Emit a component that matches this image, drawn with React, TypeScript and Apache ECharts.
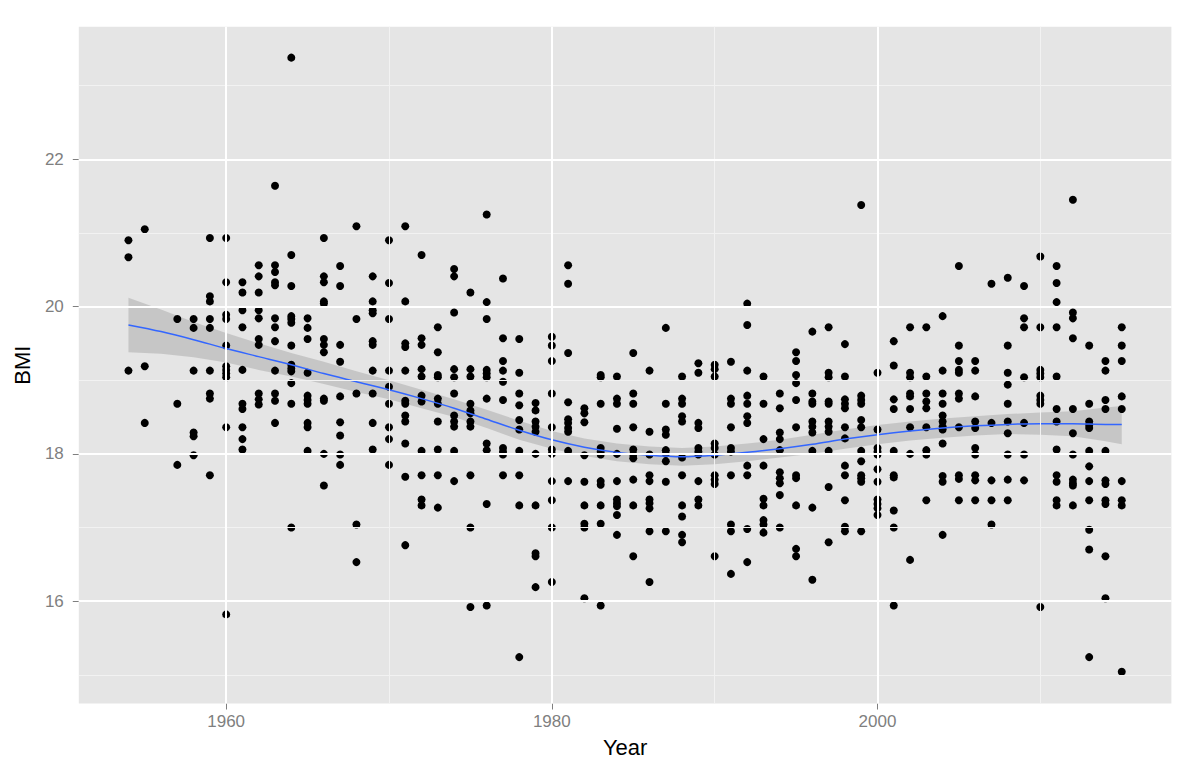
import React, { useEffect, useRef } from "react";
import * as echarts from "echarts";

// Observation years (no observations in 1956)
const years: number[] = [
  1954, 1955, 1957, 1958, 1959, 1960, 1961, 1962, 1963, 1964, 1965, 1966, 1967, 1968, 1969,
  1970, 1971, 1972, 1973, 1974, 1975, 1976, 1977, 1978, 1979, 1980, 1981, 1982, 1983, 1984,
  1985, 1986, 1987, 1988, 1989, 1990, 1991, 1992, 1993, 1994, 1995, 1996, 1997, 1998, 1999,
  2000, 2001, 2002, 2003, 2004, 2005, 2006, 2007, 2008, 2009, 2010, 2011, 2012, 2013, 2014, 2015,
];

// BMI values per year (same order as years)
const bmiByYear: number[][] = [
  [20.90, 20.67, 19.13],
  [21.05, 19.19, 18.42],
  [19.83, 18.68, 17.85],
  [19.83, 19.71, 19.13, 18.29, 18.24, 17.98],
  [20.93, 20.14, 20.07, 19.83, 19.71, 19.13, 18.82, 18.75, 17.71],
  [20.93, 20.33, 19.89, 19.83, 19.47, 19.19, 19.14, 19.09, 19.04, 18.36, 15.82],
  [20.33, 20.19, 19.95, 19.72, 19.14, 18.68, 18.61, 18.36, 18.20, 18.06],
  [20.56, 20.41, 20.19, 19.95, 19.84, 19.56, 19.48, 18.82, 18.74, 18.67],
  [21.64, 20.56, 20.47, 20.33, 20.29, 19.84, 19.72, 19.53, 19.13, 18.82, 18.72, 18.42],
  [23.38, 20.70, 20.28, 19.87, 19.83, 19.78, 19.47, 19.21, 19.16, 19.12, 18.96, 18.68, 17.00],
  [19.84, 19.71, 19.56, 19.10, 18.79, 18.73, 18.68, 18.42, 18.36, 18.04],
  [20.93, 20.41, 20.33, 20.07, 20.04, 19.56, 19.48, 19.38, 18.75, 18.72, 18.00, 17.57],
  [20.55, 20.28, 19.48, 19.25, 18.78, 18.43, 18.25, 17.99, 17.85],
  [21.09, 19.83, 18.82, 17.04, 16.53],
  [20.41, 20.07, 19.95, 19.91, 19.53, 19.48, 19.13, 18.82, 18.42, 18.06],
  [20.90, 20.32, 19.83, 19.13, 18.91, 18.68, 18.36, 18.20, 17.85],
  [21.09, 20.07, 19.50, 19.45, 19.13, 18.72, 18.68, 18.52, 18.44, 18.14, 17.69, 16.76],
  [20.70, 19.57, 19.48, 19.15, 19.05, 18.79, 18.71, 18.04, 17.71, 17.38, 17.30],
  [19.72, 19.38, 19.07, 19.04, 18.75, 18.68, 18.44, 18.06, 17.71, 17.27],
  [20.51, 20.41, 19.92, 19.15, 19.04, 18.82, 18.52, 18.44, 18.37, 18.04, 17.63],
  [20.19, 19.15, 19.05, 18.68, 18.59, 18.55, 18.44, 18.37, 17.71, 17.00, 15.92],
  [21.25, 20.06, 19.83, 19.14, 19.09, 19.04, 18.75, 18.14, 18.05, 17.32, 15.94],
  [20.38, 19.57, 19.26, 19.13, 18.98, 18.73, 18.08, 18.03, 17.99, 17.71],
  [19.56, 19.10, 18.82, 18.66, 18.46, 18.33, 18.04, 17.71, 17.30, 15.24],
  [18.69, 18.59, 18.44, 18.37, 18.30, 18.00, 17.30, 16.65, 16.61, 16.19],
  [19.59, 19.47, 19.26, 18.82, 18.36, 18.06, 18.00, 17.63, 17.37, 17.00, 16.26],
  [20.56, 20.31, 19.37, 18.70, 18.47, 18.42, 18.35, 18.30, 18.04, 17.63],
  [18.62, 18.55, 18.43, 17.98, 17.62, 17.30, 17.05, 17.00, 16.04],
  [19.07, 19.04, 18.68, 18.08, 18.03, 17.99, 17.63, 17.58, 17.30, 17.05, 15.94],
  [19.05, 18.75, 18.68, 18.34, 18.00, 17.63, 17.38, 17.33, 17.29, 17.17, 16.90],
  [19.37, 18.82, 18.68, 18.36, 18.06, 17.99, 17.94, 17.65, 17.30, 16.61],
  [19.13, 18.30, 17.99, 17.71, 17.63, 17.38, 17.33, 17.26, 16.95, 16.26],
  [19.71, 18.68, 18.33, 18.26, 18.05, 18.00, 17.90, 17.62, 16.95],
  [19.05, 18.75, 18.68, 18.51, 18.44, 17.95, 17.71, 17.30, 17.15, 16.90, 16.80],
  [19.23, 19.10, 18.42, 18.35, 18.08, 18.03, 17.99, 17.63, 17.38, 17.30],
  [19.21, 19.15, 19.05, 18.14, 18.08, 17.99, 17.71, 17.65, 17.59, 16.61],
  [19.25, 18.75, 18.68, 18.36, 18.08, 18.03, 17.71, 17.04, 16.95, 16.37],
  [20.04, 19.75, 19.13, 18.79, 18.68, 18.51, 18.42, 17.84, 17.71, 16.98, 16.53],
  [19.05, 18.68, 18.20, 17.84, 17.39, 17.30, 17.10, 17.04, 16.93],
  [18.82, 18.62, 18.29, 18.20, 18.05, 17.75, 17.67, 17.60, 17.44, 17.00],
  [19.38, 19.26, 19.07, 18.96, 18.73, 18.36, 17.71, 17.67, 17.30, 16.71, 16.61],
  [19.66, 18.82, 18.71, 18.68, 18.44, 18.37, 18.29, 18.04, 17.27, 16.29],
  [19.72, 19.10, 19.04, 18.71, 18.68, 18.44, 18.37, 18.30, 18.04, 17.55, 16.80],
  [19.49, 19.05, 18.74, 18.68, 18.62, 18.36, 18.21, 17.84, 17.71, 17.37, 17.01, 16.95],
  [21.38, 18.79, 18.73, 18.68, 18.46, 18.36, 18.04, 17.90, 17.71, 17.67, 17.62, 16.95],
  [19.10, 18.33, 18.08, 18.03, 17.99, 17.79, 17.62, 17.38, 17.32, 17.26, 17.17],
  [19.53, 19.20, 18.74, 18.61, 18.04, 17.71, 17.68, 17.23, 17.00, 15.94],
  [19.72, 19.10, 19.04, 18.82, 18.78, 18.61, 18.36, 18.00, 16.56],
  [19.72, 19.05, 18.82, 18.71, 18.62, 18.36, 18.05, 17.99, 17.37],
  [19.87, 19.13, 18.82, 18.68, 18.52, 18.44, 18.37, 18.33, 18.14, 17.70, 17.62, 16.90],
  [20.55, 19.47, 19.26, 19.14, 19.10, 18.82, 18.75, 18.36, 17.71, 17.66, 17.37],
  [19.26, 19.13, 18.78, 18.44, 18.35, 18.08, 17.99, 17.71, 17.64, 17.37],
  [20.31, 18.42, 17.64, 17.37, 17.04],
  [20.39, 19.47, 19.10, 18.94, 18.68, 18.44, 18.28, 17.99, 17.65, 17.37],
  [20.28, 19.84, 19.72, 19.04, 18.42, 17.99, 17.64],
  [20.68, 19.72, 19.14, 19.09, 19.04, 18.79, 18.73, 18.68, 15.92],
  [20.55, 20.32, 20.06, 19.72, 19.05, 18.61, 18.44, 18.06, 17.71, 17.62, 17.37, 17.30],
  [21.45, 19.92, 19.84, 19.57, 18.61, 18.28, 17.99, 17.65, 17.60, 17.57, 17.30],
  [19.47, 18.68, 18.44, 18.39, 18.35, 18.04, 17.83, 17.63, 17.37, 16.97, 16.70, 15.24],
  [19.26, 19.13, 18.73, 18.61, 18.04, 17.64, 17.59, 17.37, 17.32, 16.61, 16.04],
  [19.72, 19.47, 19.26, 18.78, 18.61, 17.63, 17.37, 17.30, 15.04],
];

// Loess smooth and its confidence band
const smoothYears: number[] = [
  1954, 1956, 1958, 1960, 1962, 1964, 1966, 1968, 1970, 1972, 1974, 1976, 1978, 1980, 1982, 1984,
  1986, 1988, 1990, 1992, 1994, 1996, 1998, 2000, 2002, 2004, 2006, 2008, 2010, 2012, 2014, 2015,
];
const smoothFit: number[] = [
  19.75, 19.66, 19.55, 19.43, 19.32, 19.21, 19.09, 18.98, 18.87, 18.75, 18.62, 18.47, 18.32, 18.19, 18.09, 18.02,
  17.98, 17.96, 17.98, 18.02, 18.07, 18.13, 18.20, 18.26, 18.31, 18.35, 18.38, 18.40, 18.41, 18.41, 18.40, 18.40,
];
const smoothUpper: number[] = [
  20.12, 19.96, 19.79, 19.64, 19.50, 19.37, 19.25, 19.12, 19.00, 18.87, 18.74, 18.60, 18.45, 18.31, 18.21, 18.14,
  18.10, 18.08, 18.10, 18.14, 18.19, 18.26, 18.33, 18.39, 18.44, 18.48, 18.51, 18.54, 18.56, 18.58, 18.63, 18.65,
];
const smoothLower: number[] = [
  19.38, 19.36, 19.31, 19.24, 19.14, 19.05, 18.95, 18.84, 18.74, 18.62, 18.50, 18.35, 18.19, 18.07, 17.97, 17.90,
  17.86, 17.84, 17.86, 17.90, 17.95, 18.00, 18.07, 18.13, 18.18, 18.22, 18.25, 18.27, 18.26, 18.24, 18.17, 18.13,
];

// Axis ticks and grid positions
const xTickLabels: number[] = [1960, 1980, 2000];
const xMinorGrid: number[] = [1970, 1990, 2010];
const yTickLabels: number[] = [16, 18, 20, 22];
const yMinorGrid: number[] = [15, 17, 19, 21, 23];

export default function App() {
  const ref = useRef<HTMLDivElement>(null);

  useEffect(() => {
    if (!ref.current) return;
    const chart = echarts.init(ref.current, null, { renderer: "svg" });
    const font = "'Liberation Sans', Arial, sans-serif";

    const points: number[][] = [];
    years.forEach((yr, i) => {
      bmiByYear[i].forEach((v) => points.push([yr, v]));
    });
    const fitData = smoothYears.map((yr, i) => [yr, smoothFit[i]]);

    const major = { color: "#ffffff", width: 2, type: "solid" as const };
    const minor = { color: "#f2f2f2", width: 1, type: "solid" as const };
    const gridLines = [
      ...yMinorGrid.map((v) => ({ yAxis: v, lineStyle: minor })),
      ...xMinorGrid.map((v) => ({ xAxis: v, lineStyle: minor })),
      ...yTickLabels.map((v) => ({ yAxis: v, lineStyle: major })),
      ...xTickLabels.map((v) => ({ xAxis: v, lineStyle: major })),
    ];

    chart.setOption({
      animation: false,
      backgroundColor: "#ffffff",
      grid: {
        left: 78.8,
        right: 28.6,
        top: 26.7,
        bottom: 72.5,
        show: true,
        backgroundColor: "#e5e5e5",
        borderWidth: 0,
        containLabel: false,
        outerBoundsMode: "none",
      },
      xAxis: {
        type: "value",
        min: 1950.95,
        max: 2018.05,
        splitLine: { show: false },
        axisLine: { show: false },
        axisTick: {
          show: true,
          customValues: xTickLabels,
          length: 6,
          lineStyle: { color: "#7f7f7f", width: 1 },
        },
        axisLabel: {
          customValues: xTickLabels,
          formatter: (v: number) => String(v),
          color: "#7f7f7f",
          fontSize: 17,
          fontFamily: font,
          margin: 9,
        },
        name: "Year",
        nameLocation: "middle",
        nameGap: 33,
        nameTextStyle: { color: "#000000", fontSize: 22, fontFamily: font },
      },
      yAxis: {
        type: "value",
        min: 14.61,
        max: 23.8,
        splitLine: { show: false },
        axisLine: { show: false },
        axisTick: {
          show: true,
          customValues: yTickLabels,
          length: 6,
          lineStyle: { color: "#7f7f7f", width: 1 },
        },
        axisLabel: {
          customValues: yTickLabels,
          formatter: (v: number) => String(v),
          color: "#7f7f7f",
          fontSize: 17,
          fontFamily: font,
          margin: 15,
        },
        name: "BMI",
        nameLocation: "middle",
        nameGap: 38,
        nameRotate: 90,
        nameTextStyle: { color: "#000000", fontSize: 22, fontFamily: font },
      },
      series: [
        {
          type: "line",
          z: 0,
          silent: true,
          data: fitData,
          showSymbol: false,
          lineStyle: { opacity: 0 },
          markLine: {
            silent: true,
            symbol: ["none", "none"],
            label: { show: false },
            animation: false,
            data: gridLines,
          },
        },
        {
          type: "custom",
          z: 1,
          silent: true,
          data: [[smoothYears[0], smoothFit[0]]],
          renderItem: (params: any, api: any) => {
            const pts: number[][] = [];
            for (let i = 0; i < smoothYears.length; i++) {
              pts.push(api.coord([smoothYears[i], smoothUpper[i]]));
            }
            for (let i = smoothYears.length - 1; i >= 0; i--) {
              pts.push(api.coord([smoothYears[i], smoothLower[i]]));
            }
            return {
              type: "polygon",
              shape: { points: pts },
              style: { fill: "rgba(153,153,153,0.4)" },
            };
          },
        },
        {
          type: "scatter",
          z: 2,
          data: points,
          symbol: "circle",
          symbolSize: 8,
          itemStyle: { color: "#000000", opacity: 1 },
        },
        {
          type: "line",
          z: 3,
          data: fitData,
          smooth: 0.3,
          showSymbol: false,
          lineStyle: { color: "#3366ff", width: 1.5 },
        },
      ],
    });

    return () => chart.dispose();
  }, []);

  return (
    <div
      ref={ref}
      style={{ position: "fixed", left: 0, top: 0, width: 1200, height: 776, background: "#ffffff" }}
    />
  );
}
